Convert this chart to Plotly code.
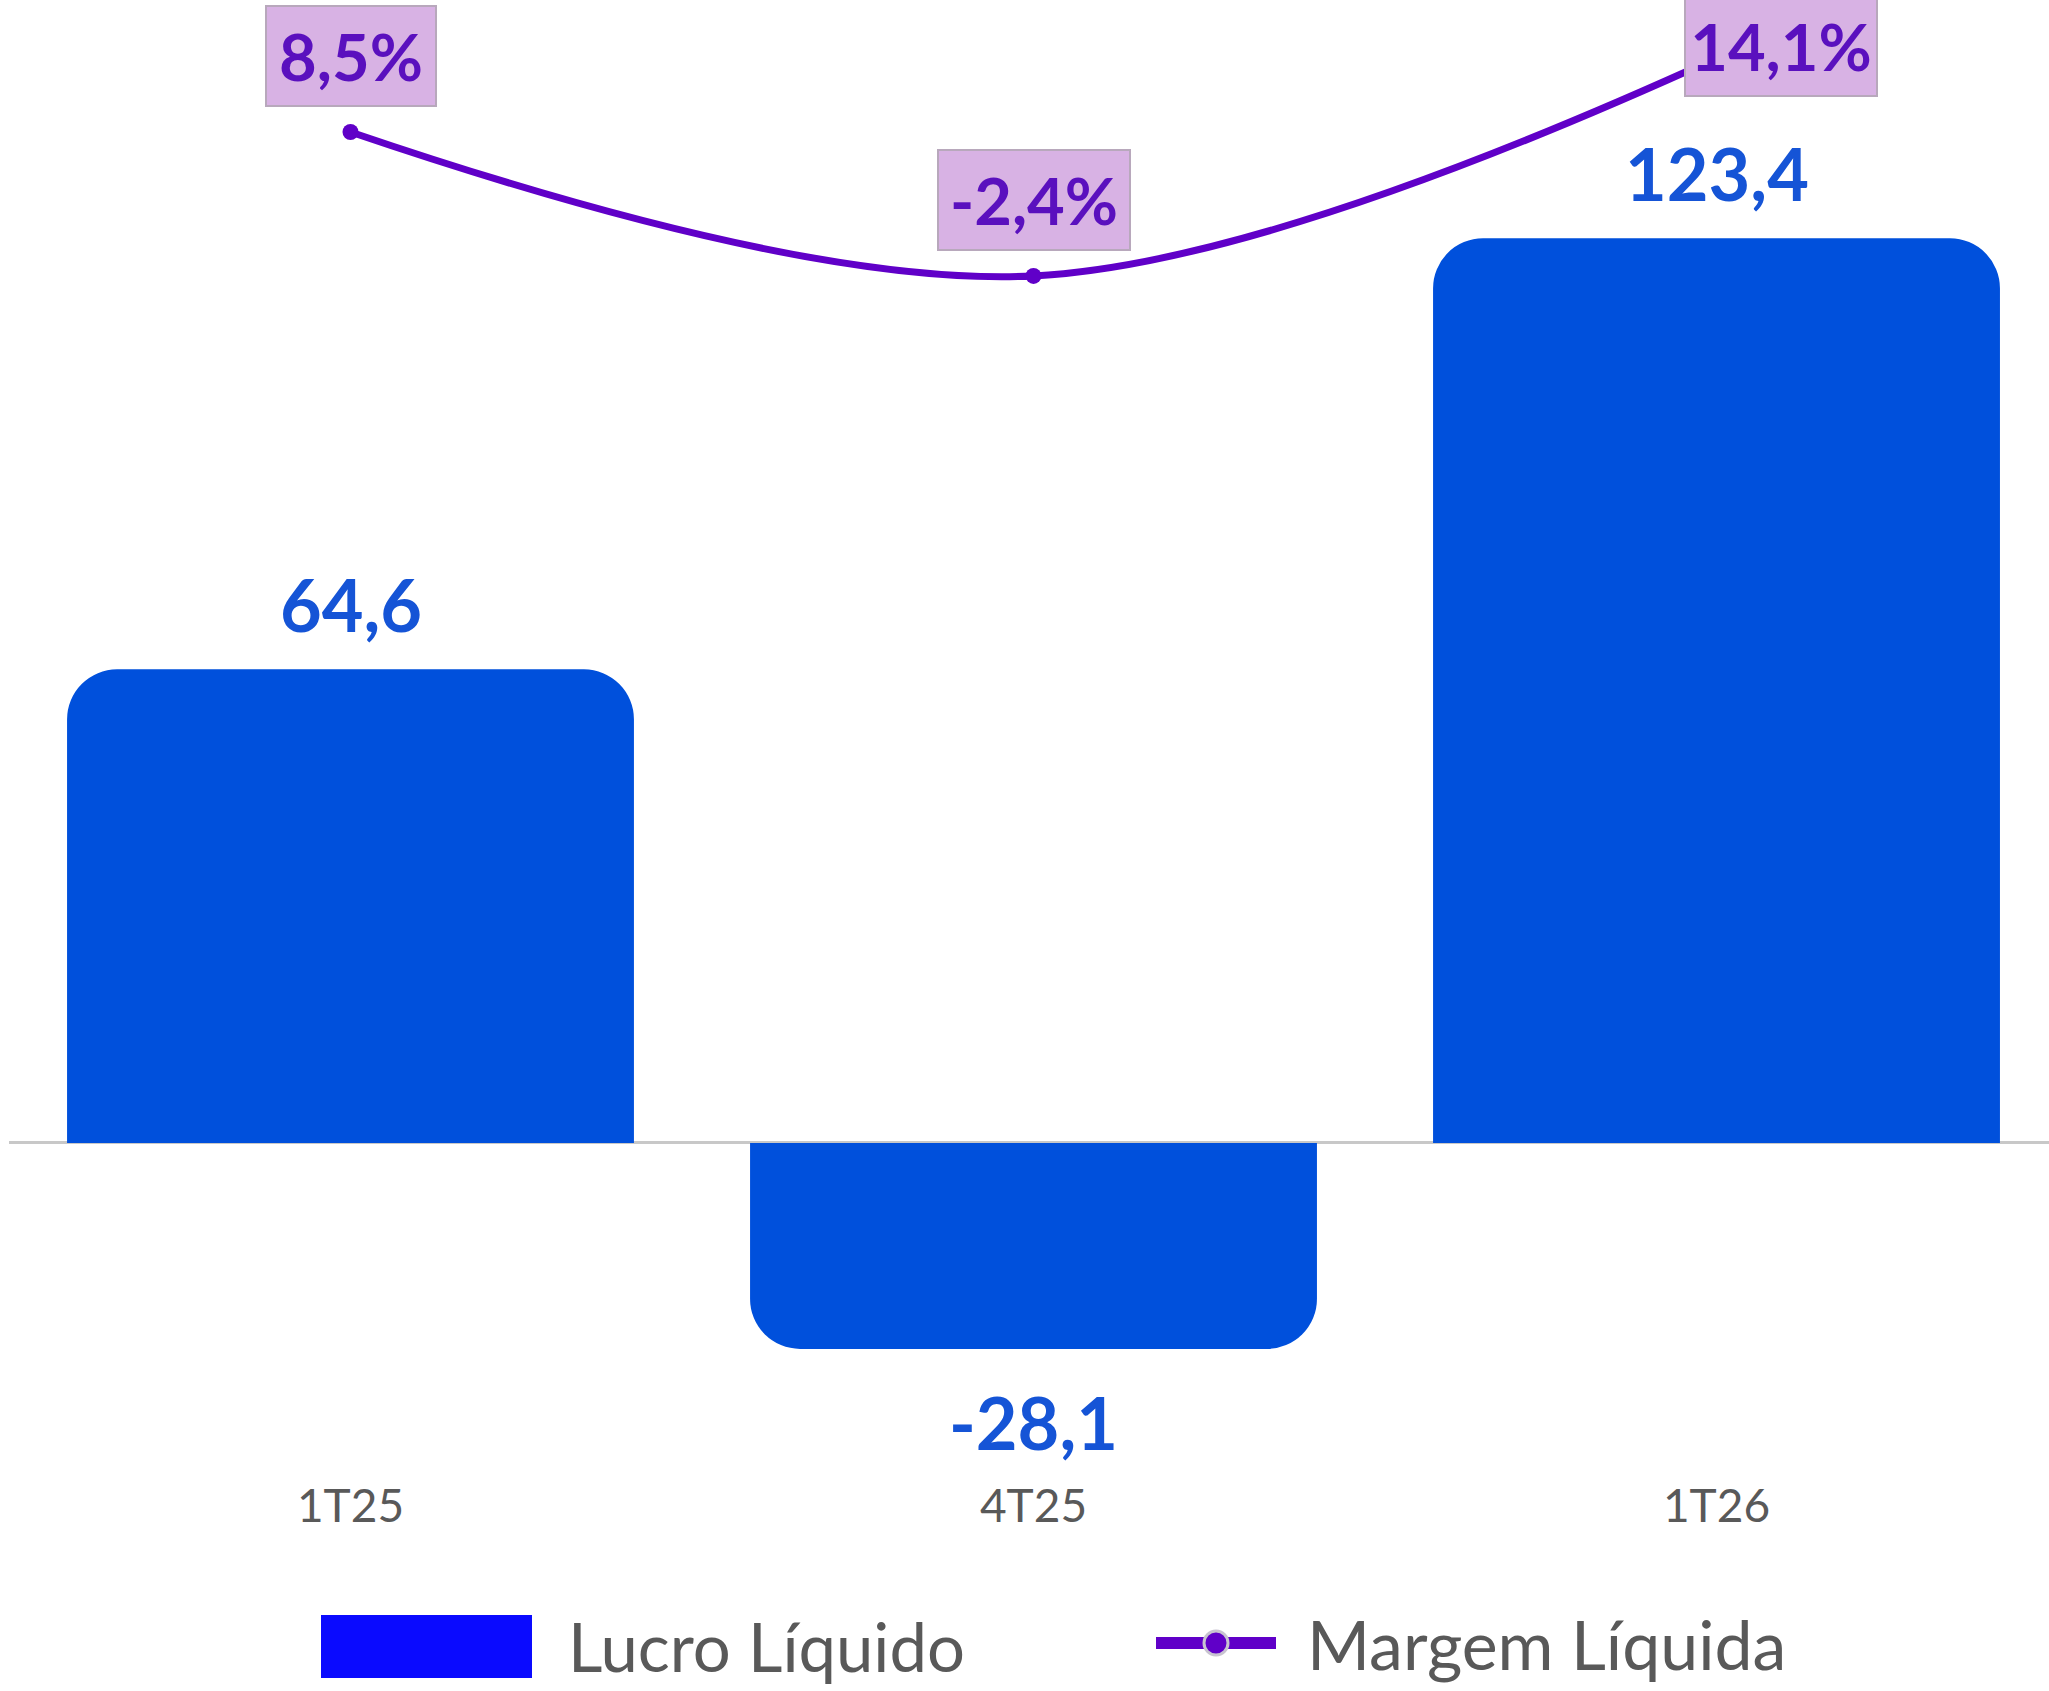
import plotly.graph_objects as go

# data
categories = ["1T25", "4T25", "1T26"]
lucro = [64.6, -28.1, 123.4]
margem = [8.5, -2.4, 14.1]
lucro_labels = ["64,6", "-28,1", "123,4"]
margem_labels = ["8,5%", "-2,4%", "14,1%"]

W, H = 2049, 1691
ML, MR, MT, MB = 9, 0, 0, 216
PW, PH = W - ML - MR, H - MT - MB

BAR_BLUE = "#0050DC"
LABEL_BLUE = "#1554D6"
PURPLE = "#6000C8"
GRAY_TXT = "#595959"
FONT = "Lato"


def px_x(p):
    return (p - ML) / PW


def px_y(p):
    return (H - MB - p) / PH


fig = go.Figure()

fig.add_trace(go.Bar(
    x=categories, y=lucro, name="Lucro Líquido",
    marker=dict(color=BAR_BLUE, line=dict(width=0), cornerradius=50),
    width=0.83, showlegend=False, hoverinfo="skip",
))

fig.add_trace(go.Scatter(
    x=categories, y=margem, name="Margem Líquida", yaxis="y2",
    mode="lines+markers",
    line=dict(color=PURPLE, width=7, shape="spline", smoothing=1),
    marker=dict(color=PURPLE, size=16),
    showlegend=False, hoverinfo="skip",
))

annotations = []
# bar value labels
for c, v, t in zip(categories, lucro, lucro_labels):
    annotations.append(dict(
        x=c, y=v, xref="x", yref="y", text=f"<b>{t}</b>", showarrow=False,
        yanchor="middle", yshift=65 if v >= 0 else -73,
        font=dict(family=FONT, size=72, color=LABEL_BLUE),
    ))

# margin labels (boxed)
shifts = [(0, 25, "bottom"), (0, 25, "bottom"), (64, 12, "middle")]
for c, v, t, (xs, ys, ya) in zip(categories, margem, margem_labels, shifts):
    annotations.append(dict(
        x=c, y=v, xref="x", yref="y2", text=f"<b>{t}</b>", showarrow=False,
        xshift=xs, yshift=ys, yanchor=ya,
        width=166 if len(t) < 5 else 188, height=96,
        bgcolor="#D8B2E4", bordercolor="#B8A8BC", borderwidth=2,
        font=dict(family=FONT, size=65, color="#5A10BE"),
    ))

# legend (drawn by hand to get the large Excel-style swatches)
annotations.append(dict(
    x=px_x(566), y=px_y(1646), xref="paper", yref="paper",
    text="Lucro Líquido", showarrow=False, xanchor="left", yanchor="middle",
    font=dict(family=FONT, size=67, color=GRAY_TXT),
))
annotations.append(dict(
    x=px_x(1305), y=px_y(1643), xref="paper", yref="paper",
    text="Margem Líquida", showarrow=False, xanchor="left", yanchor="middle",
    font=dict(family=FONT, size=68, color=GRAY_TXT),
))

shapes = [
    dict(type="rect", xref="paper", yref="paper",
         x0=px_x(321), x1=px_x(532), y0=px_y(1678), y1=px_y(1615),
         fillcolor="#0A0AFF", line=dict(width=0)),
    dict(type="line", xref="paper", yref="paper",
         x0=px_x(1156), x1=px_x(1276), y0=px_y(1643), y1=px_y(1643),
         line=dict(color=PURPLE, width=12)),
    dict(type="circle", xref="paper", yref="paper",
         x0=px_x(1204), x1=px_x(1228), y0=px_y(1655), y1=px_y(1631),
         fillcolor=PURPLE, line=dict(color="#C8C4D0", width=3)),
]

fig.update_layout(
    width=W, height=H,
    margin=dict(l=ML, r=MR, t=MT, b=MB, pad=0),
    paper_bgcolor="white", plot_bgcolor="white",
    showlegend=False,
    bargap=0.17,
    xaxis=dict(
        range=[-0.5, -0.5 + PW / 683], showgrid=False, showline=False,
        ticks="", tickfont=dict(family=FONT, size=46, color=GRAY_TXT),
        ticklabelstandoff=0,
    ),
    yaxis=dict(
        range=[-45.3, 155.9], showgrid=False, showticklabels=False,
        zeroline=True, zerolinecolor="#C8C8C8", zerolinewidth=3,
    ),
    yaxis2=dict(
        range=[-93.17, 18.49], overlaying="y", side="right",
        showgrid=False, showticklabels=False, zeroline=False,
    ),
    annotations=annotations,
    shapes=shapes,
)

fig.write_html("out.html", config={"displayModeBar": False},
               post_script="document.body.style.margin='0';")
